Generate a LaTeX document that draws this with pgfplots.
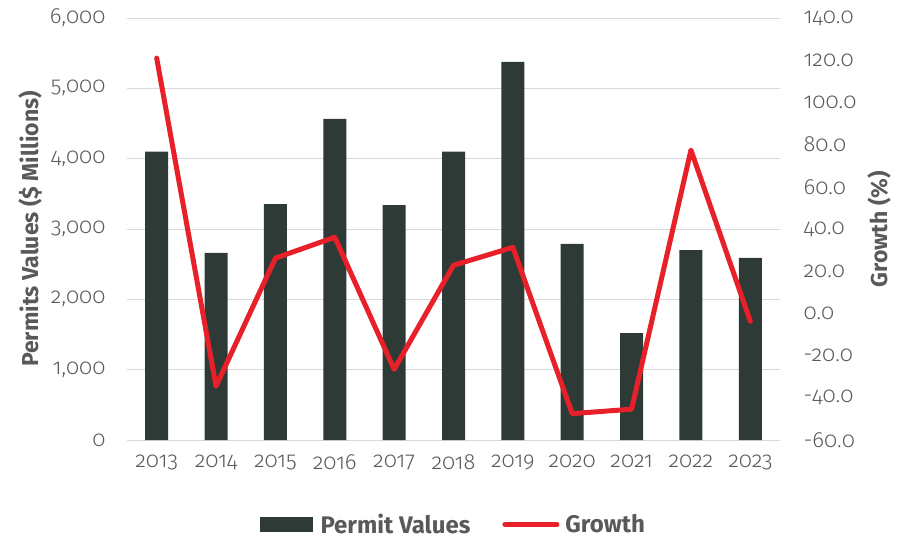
\documentclass[border=0pt]{standalone}
\usepackage{fontspec}
\setmainfont{Fira Sans}[Numbers=OldStyle]
\newfontfamily\lightfont{Fira Sans Light}[Numbers=OldStyle]
\usepackage{pgfplots}
\pgfplotsset{compat=1.18}
\definecolor{barcol}{HTML}{2E3A36}
\definecolor{linecol}{HTML}{E8202A}
\definecolor{txt}{HTML}{595959}
\definecolor{gridc}{HTML}{D9D9D9}
\begin{document}
\begin{tikzpicture}[x=1pt,y=1pt]
\path[use as bounding box] (-127,-99) rectangle (772,440);
\begin{axis}[
 at={(0,0)}, anchor=south west, scale only axis, width=653pt, height=422pt,
 xmin=-0.5, xmax=10.5, ymin=0, ymax=6000,
 xtick={0,...,10},
 xticklabels={2013,2014,2015,2016,2017,2018,2019,2020,2021,2022,2023},
 ytick={0,1000,...,6000},
 ymajorgrids, grid style={gridc, line width=1pt},
 axis x line*=bottom, axis y line*=left, axis line style={draw=none},
 major tick length=0pt,
 /pgf/number format/assume math mode=true,
 yticklabel style={/pgf/number format/1000 sep={,}, /pgf/number format/fixed, xshift=-18pt},
 xticklabel style={yshift=-11pt},
 tick label style={font=\lightfont\fontsize{22}{25}\selectfont, text=txt},
 ylabel={Permits Values (\$ Millions)},
 ylabel style={font=\bfseries\fontsize{23}{26}\selectfont, text=txt, at={(axis description cs:-0.1485,0.5)}, anchor=center},
]
\addplot[ybar, bar width=23pt, fill=barcol, draw=none] coordinates {
(0,4100) (1,2660) (2,3355) (3,4565) (4,3340) (5,4100) (6,5375) (7,2790) (8,1520) (9,2700) (10,2590)};
\end{axis}
\begin{axis}[
 at={(0,0)}, anchor=south west, scale only axis, width=653pt, height=422pt,
 xmin=-0.5, xmax=10.5, ymin=-60, ymax=140,
 ytick={-60,-40,...,140},
 axis x line=none, axis y line*=right, axis line style={draw=none},
 major tick length=0pt,
 /pgf/number format/assume math mode=true,
 yticklabel style={/pgf/number format/fixed, /pgf/number format/fixed zerofill, /pgf/number format/precision=1, xshift=20pt},
 tick label style={font=\lightfont\fontsize{22}{25}\selectfont, text=txt},
 ylabel={Growth (\%)},
 ylabel style={font=\bfseries\fontsize{23}{26}\selectfont, text=txt, at={(axis description cs:1.1516,0.5)}, anchor=center},
 legend style={at={(0.5,-0.2)}, anchor=center, draw=none, legend columns=2,
   font=\bfseries\fontsize{24}{28}\selectfont, text=txt,
   /tikz/every even column/.append style={column sep=30pt}},
]
\addlegendimage{legend image code/.code={\fill[barcol] (0pt,-7pt) rectangle (52pt,7pt); \path (58pt,0pt);}}
\addlegendentry{Permit Values}
\addplot[linecol, line width=5pt, line join=round, line cap=round,
  legend image code/.code={\draw[linecol, line width=5pt, line cap=round] (0pt,0pt) -- (52pt,0pt); \path (56pt,0pt);}] coordinates {
(0,121) (1,-34.5) (2,26.2) (3,36.1) (4,-26.5) (5,22.8) (6,31.3) (7,-47.5) (8,-45.4) (9,77.4) (10,-3.7)};
\addlegendentry{Growth}
\end{axis}
\end{tikzpicture}
\end{document}
